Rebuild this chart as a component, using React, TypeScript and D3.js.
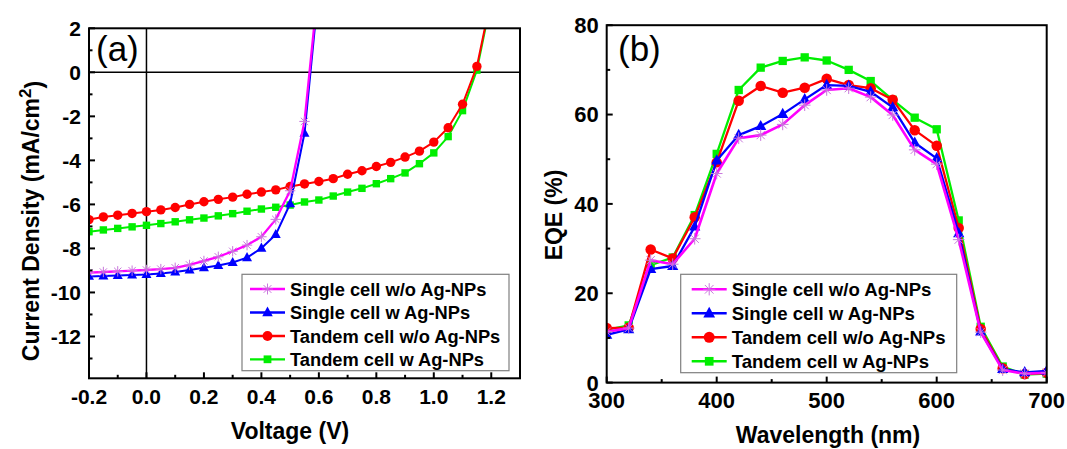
import React from 'react';
import * as d3 from 'd3';

// ---------------- DATA ----------------
const voltageSingle = [-0.2, -0.15, -0.1, -0.05, 0.0, 0.05, 0.1, 0.15, 0.2, 0.25, 0.3, 0.35, 0.4, 0.45, 0.5, 0.55, 0.6];
const voltageTandem = [-0.2, -0.15, -0.1, -0.05, 0.0, 0.05, 0.1, 0.15, 0.2, 0.25, 0.3, 0.35, 0.4, 0.45, 0.5, 0.55, 0.6, 0.65, 0.7, 0.75, 0.8, 0.85, 0.9, 0.95, 1.0, 1.05, 1.1, 1.15, 1.2];

const jSingleWo = [-9.1, -9.07, -9.04, -9.01, -8.98, -8.94, -8.88, -8.75, -8.57, -8.38, -8.13, -7.85, -7.47, -6.68, -5.38, -2.23, 4.2];
const jSingleW = [-9.27, -9.25, -9.23, -9.21, -9.19, -9.14, -9.07, -8.98, -8.88, -8.78, -8.64, -8.42, -7.99, -7.37, -5.97, -2.77, 3.9];
const jTandemWo = [-6.69, -6.57, -6.49, -6.41, -6.33, -6.25, -6.14, -6.0, -5.88, -5.77, -5.67, -5.54, -5.44, -5.34, -5.19, -5.07, -4.96, -4.83, -4.63, -4.47, -4.28, -4.09, -3.85, -3.58, -3.17, -2.52, -1.45, 0.27, 3.4];
const jTandemW = [-7.24, -7.16, -7.09, -7.02, -6.95, -6.87, -6.79, -6.7, -6.62, -6.52, -6.42, -6.31, -6.21, -6.13, -6.03, -5.89, -5.8, -5.62, -5.44, -5.27, -5.06, -4.83, -4.57, -4.15, -3.66, -2.92, -1.74, 0.1, 3.3];

const wavelengths = [300, 320, 340, 360, 380, 400, 420, 440, 460, 480, 500, 520, 540, 560, 580, 600, 620, 640, 660, 680, 700];
const eqeSingleWo = [11.4, 12.2, 27.4, 26.5, 32.2, 46.8, 54.7, 55.4, 57.8, 62.1, 65.5, 65.9, 63.9, 59.9, 52.1, 48.9, 32.0, 11.3, 2.8, 2.0, 2.2];
const eqeSingleW = [10.7, 11.9, 25.4, 26.1, 34.9, 49.7, 55.4, 57.4, 60.1, 63.4, 66.6, 66.4, 65.1, 61.6, 53.7, 50.2, 33.4, 11.4, 3.0, 2.3, 2.6];
const eqeTandemWo = [12.2, 12.3, 29.8, 27.8, 37.0, 49.3, 63.1, 66.4, 64.9, 66.0, 68.0, 66.6, 65.9, 63.3, 56.5, 53.0, 34.6, 12.0, 3.2, 1.9, 2.2];
const eqeTandemW = [11.8, 12.8, 26.3, 28.0, 37.5, 51.2, 65.5, 70.5, 72.0, 72.8, 72.1, 70.0, 67.5, 63.3, 59.3, 56.7, 36.3, 12.5, 3.6, 1.8, 2.0];

const seriesNames = ['Single cell w/o Ag-NPs', 'Single cell w Ag-NPs', 'Tandem cell w/o Ag-NPs', 'Tandem cell w Ag-NPs'];

const aXTicks = [-0.2, 0.0, 0.2, 0.4, 0.6, 0.8, 1.0, 1.2];
const aXMinor = [-0.1, 0.1, 0.3, 0.5, 0.7, 0.9, 1.1];
const aYTicks = [2, 0, -2, -4, -6, -8, -10, -12];
const aYMinor = [1, -1, -3, -5, -7, -9, -11, -13];
const bXTicks = [300, 400, 500, 600, 700];
const bXMinor = [350, 450, 550, 650];
const bYTicks = [0, 20, 40, 60, 80];
const bYMinor = [10, 30, 50, 70];

// ---------------- STYLE ----------------
const FONT = '"Liberation Sans", Arial, Helvetica, sans-serif';
const COLORS = ['#ff00ff', '#0000ff', '#ff0000', '#00ee00'];
const STAR_COLOR = '#c878dc';
const MARKERS = ['star', 'tri', 'circle', 'square'];

type Kind = string;

function Marker({ kind, cx, cy, s, color }: { kind: Kind; cx: number; cy: number; s: number; color: string }) {
  if (kind === 'star') {
    const r = 5.2 * s;
    return (
      <g stroke={STAR_COLOR} strokeWidth={1}>
        {[0, 45, 90, 135].map((a) => {
          const rad = (a * Math.PI) / 180;
          return (
            <line key={a} x1={cx - r * Math.cos(rad)} y1={cy - r * Math.sin(rad)} x2={cx + r * Math.cos(rad)} y2={cy + r * Math.sin(rad)} />
          );
        })}
      </g>
    );
  }
  if (kind === 'tri') {
    const h = 5.6 * s;
    const w = 5.0 * s;
    return <path d={`M${cx},${cy - h}L${cx + w},${cy + h * 0.62}L${cx - w},${cy + h * 0.62}Z`} fill={color} />;
  }
  if (kind === 'circle') return <circle cx={cx} cy={cy} r={4.7 * s} fill={color} />;
  const h = 3.7 * s;
  return <rect x={cx - h} y={cy - h} width={2 * h} height={2 * h} fill={color} />;
}

interface PanelCfg {
  id: string;
  xRange: [number, number];
  yRange: [number, number];
  xDomain: [number, number];
  yDomain: [number, number];
  xTicks: number[];
  xMinor: number[];
  yTicks: number[];
  yMinor: number[];
  fmtX: (v: number) => string;
  fmtY: (v: number) => string;
  tickFont: number;
  xLabelBaseline: number;
  series: { xs: number[]; ys: number[] }[];
  zeroLines: boolean;
  ms: number;
  lw: number;
  panelLabel: string;
  panelLabelPos: [number, number];
  xTitle: React.ReactNode;
  xTitlePos: [number, number];
  yTitle: React.ReactNode;
  yTitlePos: [number, number];
  legendBox: [number, number, number, number];
  legendRows: number[];
  legendLine: [number, number];
  legendText: number;
  legendFont: number;
}

function Panel({ cfg }: { cfg: PanelCfg }) {
  const x = d3.scaleLinear().domain(cfg.xDomain).range(cfg.xRange);
  const y = d3.scaleLinear().domain(cfg.yDomain).range(cfg.yRange);
  const [x0, x1] = cfg.xRange;
  const [y0, y1] = cfg.yRange; // y0 bottom, y1 top
  const line = d3
    .line<[number, number]>()
    .x((d) => x(d[0]))
    .y((d) => y(d[1]));
  const order = [3, 2, 1, 0];
  const major = 6;
  const minor = 3.5;
  return (
    <g>
      <defs>
        <clipPath id={`clip-${cfg.id}`}>
          <rect x={x0} y={y1} width={x1 - x0} height={y0 - y1} />
        </clipPath>
      </defs>
      {cfg.zeroLines && (
        <g stroke="#000" strokeWidth={1.5}>
          <line x1={x0} x2={x1} y1={y(0)} y2={y(0)} />
          <line x1={x(0)} x2={x(0)} y1={y0} y2={y1} />
        </g>
      )}
      <g clipPath={`url(#clip-${cfg.id})`}>
        {order.map((i) => {
          const s = cfg.series[i];
          const pts: [number, number][] = s.xs.map((xv, k) => [xv, s.ys[k]]);
          return (
            <g key={i}>
              <path d={line(pts) || ''} fill="none" stroke={COLORS[i]} strokeWidth={i === 0 ? cfg.lw + 0.3 : cfg.lw} strokeLinejoin="round" />
              {pts.map((p, k) => (
                <Marker key={k} kind={MARKERS[i]} cx={x(p[0])} cy={y(p[1])} s={cfg.ms} color={COLORS[i]} />
              ))}
            </g>
          );
        })}
      </g>
      {/* frame */}
      <rect x={x0} y={y1} width={x1 - x0} height={y0 - y1} fill="none" stroke="#000" strokeWidth={2} />
      {/* ticks */}
      <g stroke="#000" strokeWidth={2}>
        {cfg.xTicks.map((t) => (
          <line key={`xt${t}`} x1={x(t)} x2={x(t)} y1={y0} y2={y0 - major} />
        ))}
        {cfg.xMinor.map((t) => (
          <line key={`xm${t}`} x1={x(t)} x2={x(t)} y1={y0} y2={y0 - minor} />
        ))}
        {cfg.yTicks.map((t) => (
          <line key={`yt${t}`} x1={x0} x2={x0 + major} y1={y(t)} y2={y(t)} />
        ))}
        {cfg.yMinor.map((t) => (
          <line key={`ym${t}`} x1={x0} x2={x0 + minor} y1={y(t)} y2={y(t)} />
        ))}
      </g>
      {/* tick labels */}
      <g fontFamily={FONT} fontWeight="bold" fontSize={cfg.tickFont} fill="#000">
        {cfg.xTicks.map((t) => (
          <text key={`xl${t}`} x={x(t)} y={cfg.xLabelBaseline} textAnchor="middle">
            {cfg.fmtX(t)}
          </text>
        ))}
        {cfg.yTicks.map((t) => (
          <text key={`yl${t}`} x={x0 - 8} y={y(t)} dy="0.36em" textAnchor="end">
            {cfg.fmtY(t)}
          </text>
        ))}
      </g>
      {/* panel label */}
      <text x={cfg.panelLabelPos[0]} y={cfg.panelLabelPos[1]} fontFamily={FONT} fontSize={35} fill="#000">
        {cfg.panelLabel}
      </text>
      {/* axis titles */}
      <text x={cfg.xTitlePos[0]} y={cfg.xTitlePos[1]} textAnchor="middle" fontFamily={FONT} fontWeight="bold" fontSize={23} fill="#000">
        {cfg.xTitle}
      </text>
      <text
        transform={`translate(${cfg.yTitlePos[0]},${cfg.yTitlePos[1]}) rotate(-90)`}
        textAnchor="middle"
        fontFamily={FONT}
        fontWeight="bold"
        fontSize={23}
        fill="#000"
      >
        {cfg.yTitle}
      </text>
      {/* legend */}
      <g>
        <rect
          x={cfg.legendBox[0]}
          y={cfg.legendBox[1]}
          width={cfg.legendBox[2] - cfg.legendBox[0]}
          height={cfg.legendBox[3] - cfg.legendBox[1]}
          fill="#fff"
          stroke="#7f7f7f"
          strokeWidth={1.2}
        />
        {seriesNames.map((name, i) => {
          const ry = cfg.legendRows[i];
          const [lx0, lx1] = cfg.legendLine;
          return (
            <g key={name}>
              <line x1={lx0} x2={lx1} y1={ry} y2={ry} stroke={COLORS[i]} strokeWidth={cfg.lw + 0.3} />
              <Marker kind={MARKERS[i]} cx={(lx0 + lx1) / 2} cy={ry} s={cfg.ms * 1.05} color={COLORS[i]} />
              <text x={cfg.legendText} y={ry} dy="0.36em" fontFamily={FONT} fontWeight="bold" fontSize={cfg.legendFont} fill="#000">
                {name}
              </text>
            </g>
          );
        })}
      </g>
    </g>
  );
}

export default function App() {
  const panelA: PanelCfg = {
    id: 'a',
    xRange: [89, 520],
    yRange: [378.3, 28.3],
    xDomain: [-0.2, 1.3],
    yDomain: [-13.9, 2],
    xTicks: aXTicks,
    xMinor: aXMinor,
    yTicks: aYTicks,
    yMinor: aYMinor,
    fmtX: (v) => d3.format('.1f')(v).replace('−', '-'),
    fmtY: (v) => String(v),
    tickFont: 21,
    xLabelBaseline: 403.5,
    series: [
      { xs: voltageSingle, ys: jSingleWo },
      { xs: voltageSingle, ys: jSingleW },
      { xs: voltageTandem, ys: jTandemWo },
      { xs: voltageTandem, ys: jTandemW },
    ],
    zeroLines: true,
    ms: 1,
    lw: 2,
    panelLabel: '(a)',
    panelLabelPos: [96, 61],
    xTitle: 'Voltage (V)',
    xTitlePos: [290, 439],
    yTitle: (
      <>
        Current Density (mA/cm
        <tspan dy="-0.5em" fontSize={17}>
          2
        </tspan>
        <tspan dy="0.5em">)</tspan>
      </>
    ),
    yTitlePos: [39, 221],
    legendBox: [242, 274.3, 509, 370.7],
    legendRows: [289, 312.5, 336, 359.3],
    legendLine: [250, 285],
    legendText: 290,
    legendFont: 18.3,
  };
  const panelB: PanelCfg = {
    id: 'b',
    xRange: [606.7, 1046.7],
    yRange: [382.6, 25.2],
    xDomain: [300, 700],
    yDomain: [0, 80],
    xTicks: bXTicks,
    xMinor: bXMinor,
    yTicks: bYTicks,
    yMinor: bYMinor,
    fmtX: (v) => String(v),
    fmtY: (v) => String(v),
    tickFont: 22,
    xLabelBaseline: 407.5,
    series: [
      { xs: wavelengths, ys: eqeSingleWo },
      { xs: wavelengths, ys: eqeSingleW },
      { xs: wavelengths, ys: eqeTandemWo },
      { xs: wavelengths, ys: eqeTandemW },
    ],
    zeroLines: false,
    ms: 1.12,
    lw: 2.3,
    panelLabel: '(b)',
    panelLabelPos: [618, 61],
    xTitle: 'Wavelength (nm)',
    xTitlePos: [828, 443],
    yTitle: 'EQE (%)',
    yTitlePos: [562, 215],
    legendBox: [680.7, 274.3, 956.7, 372.7],
    legendRows: [289.3, 313.3, 337.3, 361.3],
    legendLine: [691.7, 726.7],
    legendText: 731.7,
    legendFont: 18.6,
  };
  return (
    <svg
      width={1067}
      height={449}
      viewBox="0 0 1067 449"
      style={{ position: 'absolute', left: 0, top: 0, background: '#fff' }}
    >
      <rect x={0} y={0} width={1067} height={449} fill="#fff" />
      <Panel cfg={panelA} />
      <Panel cfg={panelB} />
    </svg>
  );
}
